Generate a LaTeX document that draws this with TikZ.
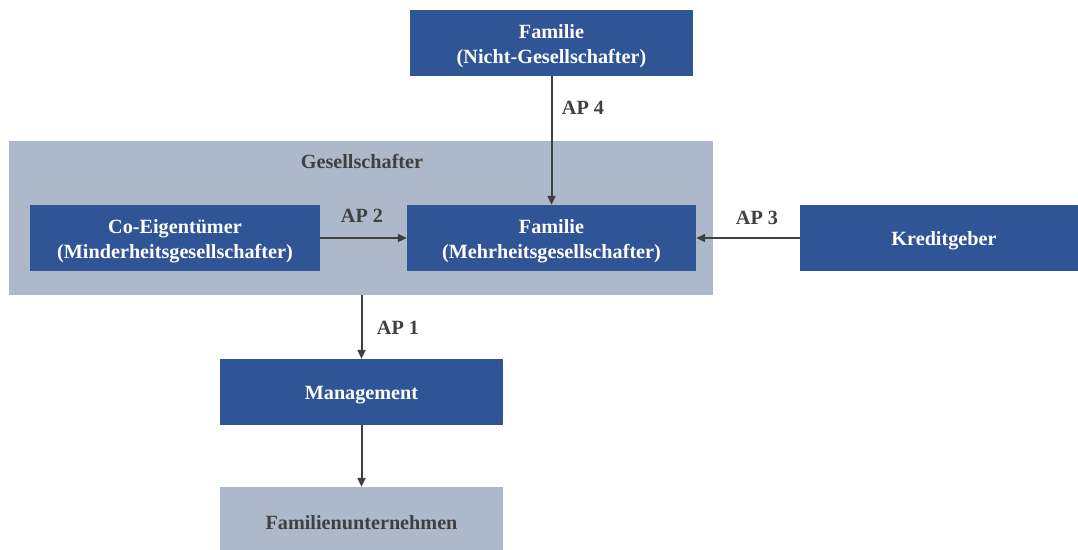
\documentclass[tikz,border=0pt]{standalone}
\usepackage{fontspec}
\setmainfont{Liberation Serif}
\usetikzlibrary{arrows.meta}
\definecolor{boxblue}{HTML}{2F5597}
\definecolor{boxgrey}{HTML}{ADB9CA}
\definecolor{ink}{HTML}{404040}
\tikzset{
  boxfont/.style={font=\fontsize{20.2}{25}\selectfont\bfseries},
  bluebox/.style={fill=boxblue, draw=none, inner sep=0pt, minimum height=66pt,
    label={[text=white, align=center, boxfont, yshift=-3pt]center:#1}},
  greybox/.style={fill=boxgrey, draw=none, inner sep=0pt,
    label={[text=ink, align=center, boxfont, yshift=-3pt]center:#1}},
  flow/.style={draw=ink, line width=2pt, -{Triangle[length=9pt,width=8pt]}},
  aplabel/.style={text=ink, boxfont, inner sep=0pt}
}
\begin{document}
\begin{tikzpicture}[x=1pt,y=-1pt]
\useasboundingbox (0,0) rectangle (1078,549);
% shareholder group
\node[greybox={}, minimum width=704pt, minimum height=154pt] (gs) at (361,218) {};
\node[aplabel] (gst) at (362,161) {Gesellschafter};
% boxes
\node[bluebox={Familie\\(Nicht-Gesellschafter)}, minimum width=283pt] (top) at (551.5,43) {};
\node[bluebox={Co-Eigentümer\\(Minderheitsgesellschafter)}, minimum width=290pt] (co) at (175,238) {};
\node[bluebox={Familie\\(Mehrheitsgesellschafter)}, minimum width=289pt] (fm) at (551.5,238) {};
\node[bluebox={Kreditgeber}, minimum width=288pt] (kr) at (944,238) {};
\node[bluebox={Management}, minimum width=283pt] (mg) at (361.5,392) {};
\node[greybox={Familienunternehmen}, minimum width=283pt, minimum height=66pt] (fu) at (361.5,520) {};
% connectors
\draw[flow] (top.south) -- (fm.north);
\draw[flow] (co.east) -- (fm.west);
\draw[flow] (kr.west) -- (fm.east);
\draw[flow] (mg.north |- gs.south) -- (mg.north);
\draw[flow] (mg.south) -- (fu.north);
% labels
\node[aplabel] (ap4) at (583,108) {AP 4};
\node[aplabel] (ap2) at (362,216) {AP 2};
\node[aplabel] (ap3) at (757,218) {AP 3};
\node[aplabel] (ap1) at (398,328) {AP 1};
\end{tikzpicture}
\end{document}
